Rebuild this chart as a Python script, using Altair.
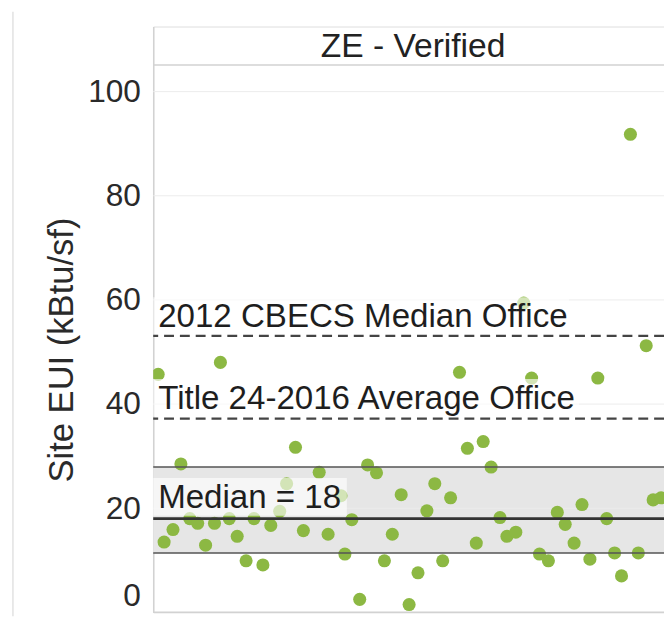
import altair as alt
import pandas as pd

# ---- data ----
# horizontal jitter position of each building (arbitrary units) and its Site EUI
jitter = [5, 68, 28, 144, 168, 217, 226, 135, 11, 20, 37, 45, 62, 77, 53, 85, 102, 94, 111, 119,
          128, 152, 177, 201, 194, 209, 234, 242, 251, 259, 268, 277, 285, 293, 301, 310, 318, 334,
          342, 327, 351, 358, 367, 383, 375, 391, 400, 409, 417, 426, 434, 442, 450, 459, 467, 474,
          491, 499, 506, 514, 483, 190]
eui = [45.7, 48.0, 28.5, 31.7, 26.9, 28.3, 26.8, 24.7, 13.5, 15.9, 18.0, 17.1, 17.1, 18.0, 12.9, 14.6,
       18.0, 9.9, 9.1, 16.7, 19.4, 15.7, 15.0, 17.8, 11.2, 2.5, 9.9, 15.0, 22.6, 1.5, 7.6, 19.5, 24.7,
       9.9, 22.0, 46.1, 31.5, 32.8, 27.9, 13.3, 18.2, 14.6, 15.4, 45.0, 59.4, 11.2, 9.9, 19.2, 16.9,
       13.3, 20.7, 10.2, 45.0, 18.0, 11.4, 7.0, 11.4, 51.2, 21.6, 22.0, 91.8, 22.4]

panel_title = "ZE - Verified"
y_title = "Site EUI (kBtu/sf)"
y_ticks = [0, 20, 40, 60, 80, 100]
grid_vals = [20, 40, 60, 80, 100]

ref_labels = ["2012 CBECS Median Office", "Title 24-2016 Average Office"]
ref_values = [53.1, 37.2]
median_label = "Median = 18"
median_value = 18
band_low, band_high = 11.4, 27.9

# ---- layout ----
W, H = 517, 593
Y_MAX = 112.5
PX = H / Y_MAX              # pixels per unit
X_SPAN = 517
FONT = "Liberation Sans"
GREEN = "#8cb843"

ysc = alt.Scale(domain=[0, Y_MAX], nice=False, zero=False)
xsc = alt.Scale(domain=[0, X_SPAN], nice=False, zero=False)

yaxis = alt.Axis(
    values=y_ticks, grid=False, ticks=False, domain=True, domainColor="#d2d2d2",
    domainWidth=1.5, labelFontSize=32, labelColor="#2a2a2a", labelFont=FONT,
    labelPadding=13,
    labelOffset={"condition": {"test": "datum.value === 0", "value": -17}, "value": 0},
    title=y_title, titleFont=FONT, titleFontSize=35, titleFontWeight="normal",
    titleColor="#2a2a2a", titleAngle=270, titleAlign="center", titleBaseline="middle",
    titleX=-93, titleY=327,
)

pts = pd.DataFrame({"jitter": jitter, "eui": eui})

band = alt.Chart(pd.DataFrame({"lo": [band_low], "hi": [band_high]})).mark_rect(
    color="#e6e6e6"
).encode(y=alt.Y("lo:Q", scale=ysc, axis=yaxis), y2="hi:Q")

grid = alt.Chart(pd.DataFrame({"v": grid_vals})).mark_rule(
    color="#ececec", strokeWidth=1
).encode(y=alt.Y("v:Q", scale=ysc))

bottom = alt.Chart(pd.DataFrame({"v": [0]})).mark_rule(
    color="#d2d2d2", strokeWidth=1.5
).encode(y=alt.Y("v:Q", scale=ysc))

header_line = alt.Chart(pd.DataFrame({"v": [(H - 39) / PX]})).mark_rule(
    color="#d2d2d2", strokeWidth=1.5
).encode(y=alt.Y("v:Q", scale=ysc))

# light page frame at the far left
frame = alt.Chart(pd.DataFrame({"v": [0]})).mark_rule(
    color="#e2e2e2", strokeWidth=1.5, clip=False
).encode(x=alt.value(-142), y=alt.value(-15), y2=alt.value(H + 4))

header = alt.Chart(pd.DataFrame({"t": [panel_title], "x": [X_SPAN * 0.5 + 4.5],
                                 "v": [(H - 21) / PX]})).mark_text(
    font=FONT, fontSize=34, color="#222222", baseline="middle", align="center"
).encode(x=alt.X("x:Q", scale=xsc, axis=None), y=alt.Y("v:Q", scale=ysc), text="t:N")

points = alt.Chart(pts).mark_circle(
    color=GREEN, opacity=1, size=175, clip=True
).encode(x=alt.X("jitter:Q", scale=xsc, axis=None), y=alt.Y("eui:Q", scale=ysc))

# label rows: baseline a few pixels above each line
lab_text = ref_labels + [median_label]
lab_line = ref_values + [median_value]
lab_gap = [9, 10, 11]
lab_end = [421, 431, 196]
labs = pd.DataFrame({
    "t": lab_text,
    "x": [5] * 3,
    "base": [v + g / PX for v, g in zip(lab_line, lab_gap)],
})
labs["top"] = labs["base"] + 30 / PX
labs["bot"] = labs["base"] - 8 / PX
labs["x0"] = 0
labs["x1"] = lab_end

boxes = alt.Chart(labs).mark_rect(color="white", opacity=0.62).encode(
    x=alt.X("x0:Q", scale=xsc, axis=None), x2="x1:Q",
    y=alt.Y("bot:Q", scale=ysc), y2="top:Q",
)

dashed = alt.Chart(pd.DataFrame({"v": ref_values})).mark_rule(
    color="#444444", strokeWidth=2.2, strokeDash=[10, 6]
).encode(y=alt.Y("v:Q", scale=ysc))

band_edges = alt.Chart(pd.DataFrame({"v": [band_low, band_high]})).mark_rule(
    color="#555555", strokeWidth=1.6
).encode(y=alt.Y("v:Q", scale=ysc))

median_line = alt.Chart(pd.DataFrame({"v": [median_value]})).mark_rule(
    color="#333333", strokeWidth=2.6
).encode(y=alt.Y("v:Q", scale=ysc))

texts = alt.Chart(labs).mark_text(
    font=FONT, fontSize=33.5, color="#1e1e1e", align="left", baseline="alphabetic"
).encode(x=alt.X("x:Q", scale=xsc, axis=None), y=alt.Y("base:Q", scale=ysc), text="t:N")

chart = alt.layer(
    band, grid, bottom, header_line, frame, points, boxes, dashed, band_edges, median_line,
    texts, header
).properties(
    width=W, height=H,
    padding={"left": 147, "top": 15, "right": 0, "bottom": 4},
    autosize=alt.AutoSizeParams(type="none"),
).configure_view(stroke=None).configure(background="white")

chart.save("out.html", embed_options={"renderer": "svg", "actions": False})
